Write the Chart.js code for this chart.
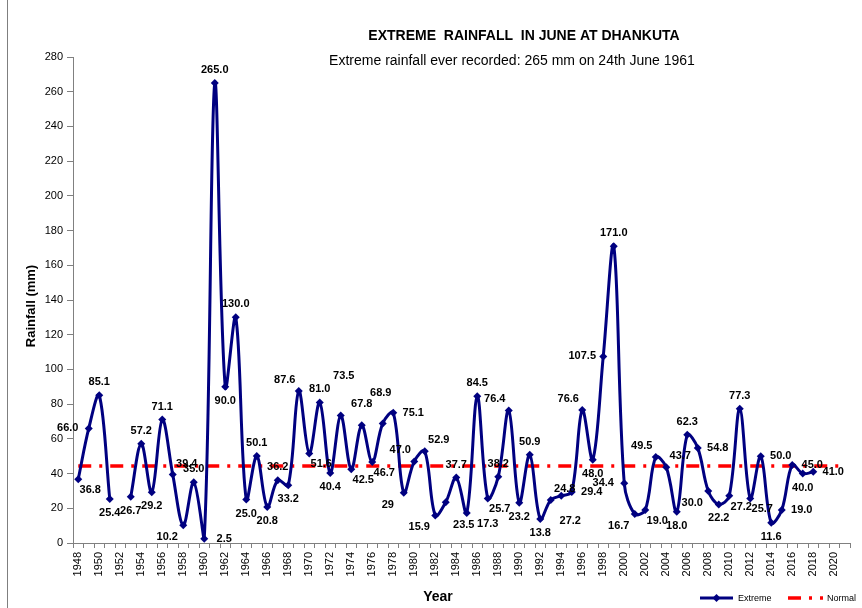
<!DOCTYPE html>
<html><head><meta charset="utf-8">
<script src="https://cdn.jsdelivr.net/npm/chart.js@4.4.0/dist/chart.umd.min.js"></script>
<style>html,body{margin:0;padding:0;background:#fff}canvas{display:block}</style>
</head><body>
<canvas id="c" width="862" height="608"></canvas>
<script>
const years = ['1948','1949','1950','1951','1952','1953','1954','1955','1956','1957',
'1958','1959','1960','1961','1962','1963','1964','1965','1966','1967',
'1968','1969','1970','1971','1972','1973','1974','1975','1976','1977',
'1978','1979','1980','1981','1982','1983','1984','1985','1986','1987',
'1988','1989','1990','1991','1992','1993','1994','1995','1996','1997',
'1998','1999','2000','2001','2002','2003','2004','2005','2006','2007',
'2008','2009','2010','2011','2012','2013','2014','2015','2016','2017',
'2018','2019','2020','2021'];

const extreme = [36.8,66.0,85.1,25.4,null,26.7,57.2,29.2,71.1,39.4,
10.2,35.0,2.5,265.0,90.0,130.0,25.0,50.1,20.8,36.2,
33.2,87.6,51.6,81.0,40.4,73.5,42.5,67.8,46.7,68.9,
75.1,29,47.0,52.9,15.9,23.5,37.7,17.3,84.5,25.7,
38.2,76.4,23.2,50.9,13.8,24.8,27.2,29.4,76.6,48.0,
107.5,171.0,34.4,16.7,19.0,49.5,43.7,18.0,62.3,54.8,
30.0,22.2,27.2,77.3,25.7,50.0,11.6,19.0,45.0,40.0,
41.0,null,null,null];

const normal = [44.3,44.3,44.3,44.3,44.3,44.3,44.3,44.3,44.3,44.3,
44.3,44.3,44.3,44.3,44.3,44.3,44.3,44.3,44.3,44.3,
44.3,44.3,44.3,44.3,44.3,44.3,44.3,44.3,44.3,44.3,
44.3,44.3,44.3,44.3,44.3,44.3,44.3,44.3,44.3,44.3,
44.3,44.3,44.3,44.3,44.3,44.3,44.3,44.3,44.3,44.3,
44.3,44.3,44.3,44.3,44.3,44.3,44.3,44.3,44.3,44.3,
44.3,44.3,44.3,44.3,44.3,44.3,44.3,44.3,44.3,44.3,
44.3,44.3,44.3,44.3];

const yTicks = [0,20,40,60,80,100,120,140,160,180,200,220,240,260,280];

// label placement keyword per point
const labelPos = ['BR','L','T','B',null,'B','T','B','T','TR',
'BL','T','R','T','B','T','B','T','B','T',
'B','TL','BR','T','B','TT','BR','T2','BR','T3',
'R','BL','TL','TR','BL','BB2','T','BR2','T','BR',
'T','TL','B','T','B','TR','BB','R','TL','B',
'L','T','L','BL','BR','TL','TR','B','T','R',
'BL','B','BR','T','BR','R','B','R','R','B',
'R',null,null,null];

const FONT = "'Liberation Sans', Arial, sans-serif";
const OFF = {T:[0,-13],T2:[0,-21],T3:[-2,-30],TT:[3,-39],B:[0,14],BB:[9,25],BB2:[18,23],L:[-21,0],R:[20,0],
  TL:[-14,-11],TR:[14,-11],BL:[-16,12],BR:[12,11],BR2:[21,11]};

const decor = {
  id:'decor',
  afterDatasetsDraw(chart){
    const ctx = chart.ctx;
    const meta = chart.getDatasetMeta(0);
    ctx.save();
    ctx.fillStyle = '#000';
    ctx.font = "bold 11px " + FONT;
    ctx.textAlign = 'center';
    ctx.textBaseline = 'middle';
    meta.data.forEach((pt,i)=>{
      const v = extreme[i];
      if (v === null || !labelPos[i]) return;
      const o = OFF[labelPos[i]];
      const txt = years[i]==='1979' ? String(v) : v.toFixed(1);
      ctx.fillText(txt, pt.x + o[0], pt.y + o[1]);
    });
    ctx.restore();
  },
  afterDraw(chart){
    const ctx = chart.ctx;
    ctx.save();
    // frame
    ctx.strokeStyle = '#7f7f7f'; ctx.lineWidth = 1;
    ctx.beginPath(); ctx.moveTo(7.5,0); ctx.lineTo(7.5,608); ctx.stroke();
    // titles
    ctx.fillStyle = '#000';
    ctx.textAlign = 'center'; ctx.textBaseline = 'middle';
    ctx.font = "bold 14px " + FONT;
    ctx.fillText('EXTREME  RAINFALL  IN JUNE AT DHANKUTA', 524, 36);
    ctx.font = "14px " + FONT;
    ctx.fillText('Extreme rainfall ever recorded: 265 mm on 24th June 1961', 512, 61);
    // axis titles
    ctx.font = "bold 14px " + FONT;
    ctx.fillText('Year', 438, 597);
    ctx.save();
    ctx.translate(31, 306); ctx.rotate(-Math.PI/2);
    ctx.font = "bold 13px " + FONT;
    ctx.fillText('Rainfall (mm)', 0, 0);
    ctx.restore();
    // legend
    const ds = chart.data.datasets;
    ctx.textAlign = 'left';
    ctx.font = "9px " + FONT;
    ctx.strokeStyle = ds[0].borderColor; ctx.lineWidth = 3;
    ctx.beginPath(); ctx.moveTo(700,598); ctx.lineTo(733,598); ctx.stroke();
    ctx.fillStyle = ds[0].borderColor;
    ctx.beginPath(); ctx.moveTo(716.5,594); ctx.lineTo(720.5,598); ctx.lineTo(716.5,602); ctx.lineTo(712.5,598); ctx.closePath(); ctx.fill();
    ctx.fillStyle = '#000';
    ctx.fillText(ds[0].label, 738, 599);
    ctx.strokeStyle = ds[1].borderColor; ctx.lineWidth = 3.5;
    ctx.setLineDash(ds[1].borderDash);
    ctx.beginPath(); ctx.moveTo(788,598); ctx.lineTo(823,598); ctx.stroke();
    ctx.setLineDash([]);
    ctx.fillText(ds[1].label, 827, 599);
    ctx.restore();
  }
};

new Chart(document.getElementById('c'), {
  type:'line',
  data:{
    labels: years,
    datasets:[
      {label:'Extreme', data: extreme, borderColor:'#000080', backgroundColor:'#000080',
       borderWidth:3, tension:0.35, pointStyle:'rectRot', pointRadius:4, pointBorderWidth:0,
       spanGaps:false, order:1},
      {label:'Normal', data: normal, borderColor:'#ff0000', borderWidth:3.5,
       borderDash:[13,8,3,8], pointRadius:0, tension:0, order:2}
    ]
  },
  options:{
    responsive:false, animation:false,
    layout:{padding:{top:57,right:7,bottom:0,left:0}},
    plugins:{legend:{display:false}, title:{display:false}, tooltip:{enabled:false}},
    scales:{
      x:{
        offset:true,
        grid:{display:true, drawOnChartArea:false, drawTicks:true, tickLength:5, offset:true, color:'#808080'},
        border:{display:true, color:'#808080', width:1},
        ticks:{autoSkip:false, maxRotation:90, minRotation:90, padding:4, color:'#000',
          font:{family:FONT, size:11},
          callback:function(v,i){ return i%2===0 ? this.getLabelForValue(v) : ''; }},
        afterFit(s){ s.height = 65; }
      },
      y:{
        min:0, max:280,
        afterBuildTicks(s){ s.ticks = yTicks.map(v=>({value:v})); },
        grid:{display:true, drawOnChartArea:false, drawTicks:true, tickLength:6, color:'#808080'},
        border:{display:true, color:'#808080', width:1},
        ticks:{padding:4, color:'#000', font:{family:FONT, size:11}},
        afterFit(s){ s.width = 73; }
      }
    }
  },
  plugins:[decor]
});
</script>
</body></html>
